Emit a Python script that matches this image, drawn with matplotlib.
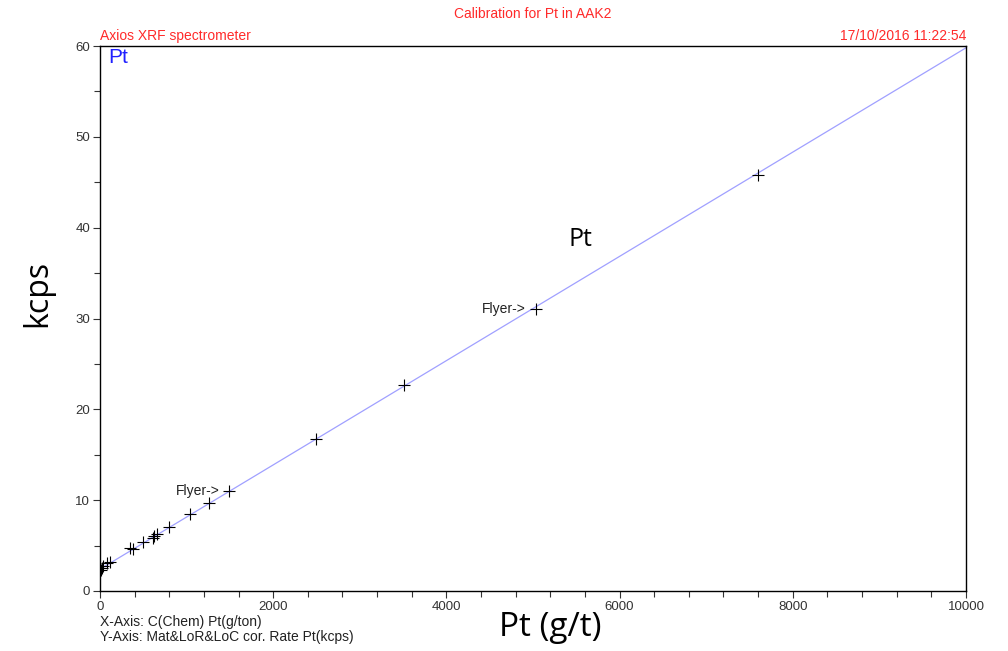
import numpy as np
import matplotlib.pyplot as plt
from matplotlib.ticker import MultipleLocator

# chemical concentration (g/ton) and corrected count rate (kcps)
conc = [12, 23, 35, 81, 115, 346, 381, 497, 612, 624, 658,
        800, 1035, 1255, 1495, 2495, 3515, 5030, 7595]
kcps = [2.3, 2.5, 2.75, 3.1, 3.2, 4.7, 4.6, 5.4, 5.8, 6.05, 6.3,
        7.0, 8.45, 9.7, 11.05, 16.7, 22.7, 31.0, 45.8]

# calibration line
cal_x = [0, 10000]
cal_y = [2.4, 59.8]

flyers = [(1495, 11.05), (5030, 31.0)]

red = '#ff2a2a'
arial = ['Liberation Sans', 'DejaVu Sans']
big = ['Open Sans', 'DejaVu Sans']

fig = plt.figure(figsize=(10.08, 6.51), dpi=100)
ax = fig.add_axes([0.0992, 0.0922, 0.8591, 0.8371])

ax.plot(cal_x, cal_y, color='#a0a0ff', lw=0.9, zorder=1)
ax.plot(conc, kcps, ls='none', marker='+', color='black',
        markersize=9, markeredgewidth=0.8, zorder=2)

for fx, fy in flyers:
    ax.text(fx - 110, fy, 'Flyer->', ha='right', va='center',
            fontsize=10, family=arial, color='#222222')

ax.set_xlim(0, 10000)
ax.set_ylim(0, 60)
ax.xaxis.set_major_locator(MultipleLocator(2000))
ax.xaxis.set_minor_locator(MultipleLocator(400))
ax.yaxis.set_major_locator(MultipleLocator(10))
ax.yaxis.set_minor_locator(MultipleLocator(5))
ax.tick_params(which='both', direction='out', top=False, right=False,
               length=5, width=0.8, labelsize=9.5, colors='#333333',
               pad=2)
ax.tick_params(which='minor', length=4)
for lab in ax.get_xticklabels() + ax.get_yticklabels():
    lab.set_family(arial)
for sp in ax.spines.values():
    sp.set_linewidth(1.0)

ax.text(0.009, 0.997, 'Pt', transform=ax.transAxes, ha='left', va='top',
        fontsize=15, family=arial, color='#2020ff')
ax.text(5550, 38.7, 'Pt', ha='center', va='center', fontsize=18,
        family=big, color='black')

fig.text(0.529, 0.979, 'Calibration for Pt in AAK2', ha='center',
         va='center', fontsize=10, family=arial, color=red)
fig.text(0.0992, 0.9335, 'Axios XRF spectrometer', ha='left',
         va='bottom', fontsize=10, family=arial, color=red)
fig.text(0.9583, 0.9335, '17/10/2016 11:22:54', ha='right',
         va='bottom', fontsize=10, family=arial, color=red)

fig.text(0.0992, 0.045, 'X-Axis: C(Chem) Pt(g/ton)', ha='left',
         va='center', fontsize=10, family=arial, color='#222222')
fig.text(0.0992, 0.021, 'Y-Axis: Mat&LoR&LoC cor. Rate Pt(kcps)',
         ha='left', va='center', fontsize=10, family=arial, color='#222222')

fig.text(0.546, 0.036, 'Pt (g/t)', ha='center', va='center', fontsize=24,
         family=big, color='black')
fig.text(0.037, 0.55, 'kcps', ha='center', va='center', fontsize=23,
         rotation=90, family=big, color='black')

fig.savefig('out.png', dpi=100)
